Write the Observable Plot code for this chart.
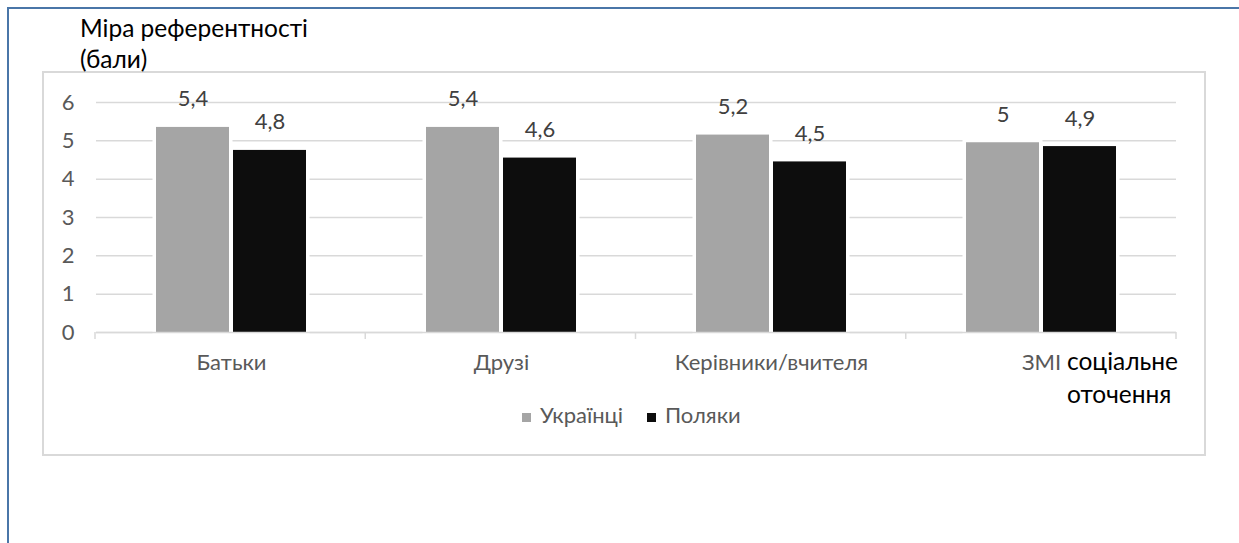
<!DOCTYPE html>
<html>
<head>
<meta charset="utf-8">
<script src="https://cdn.jsdelivr.net/npm/d3@7"></script>
<script src="https://cdn.jsdelivr.net/npm/@observablehq/plot@0.6"></script>
<style>
  html, body { margin: 0; padding: 0; background: #fff; }
  body { width: 1239px; height: 543px; overflow: hidden; position: relative; font-family: Lato, "Open Sans", sans-serif; }
  #frame { position: absolute; left: 7px; top: 7px; width: 1300px; height: 600px; border-top: 2px solid #4a76a8; border-left: 2px solid #4a76a8; }
  #box { position: absolute; box-sizing: border-box; left: 42px; top: 71px; width: 1164px; height: 385px; border: 2px solid #d9d9d9; }
  #chart { position: absolute; left: 0; top: 0; }
  #chart svg text { font-family: Lato, "Open Sans", sans-serif; font-size: 22px; }
  #ov { position: absolute; left: 0; top: 0; pointer-events: none; font-family: Lato, "Open Sans", sans-serif; }
</style>
</head>
<body>
<div id="frame"></div>
<div id="box"></div>
<div id="chart"></div>
<svg id="ov" width="1239" height="543">
  <text x="80" y="37" font-size="24.5" fill="#000">Міра референтності</text>
  <text x="80" y="68" font-size="24.5" fill="#000">(бали)</text>
  <text x="1067" y="370" font-size="24.5" fill="#000">соціальне</text>
  <text x="1067" y="403" font-size="24.5" fill="#000">оточення</text>
  <g id="legend"></g>
</svg>
<script>
// ---- data ----
const categories = ["Батьки", "Друзі", "Керівники/вчителя", "ЗМІ"];
const series = ["Українці", "Поляки"];
const ukrainians = [5.35, 5.35, 5.15, 4.95];
const poles = [4.75, 4.55, 4.45, 4.85];
const ukrainiansLabels = ["5,4", "5,4", "5,2", "5"];
const polesLabels = ["4,8", "4,6", "4,5", "4,9"];
const yTicks = [0, 1, 2, 3, 4, 5, 6];
const colors = ["#a5a5a5", "#0d0d0d"];

const data = categories.flatMap((c, i) => [
  {cat: c, ser: series[0], v: ukrainians[i], label: ukrainiansLabels[i]},
  {cat: c, ser: series[1], v: poles[i], label: polesLabels[i]}
]);

const chart = Plot.plot({
  width: 1239,
  height: 543,
  marginLeft: 95,
  marginRight: 63,
  marginTop: 102,
  marginBottom: 211,
  style: {background: "transparent", fontFamily: "Lato, 'Open Sans', sans-serif", fontSize: "22px", color: "#595959", overflow: "visible"},
  fx: {domain: categories, padding: 0, axis: "bottom", tickSize: 0, tickPadding: 22, label: null},
  x: {domain: series, axis: null, paddingInner: 0.052, paddingOuter: 0.779},
  y: {domain: [0, 6], ticks: 6, tickSize: 0, tickPadding: 22, label: null, tickFormat: d => String(d)},
  color: {domain: series, range: colors},
  marks: [
    Plot.ruleY(yTicks, {stroke: "#d9d9d9", strokeWidth: 1.5}),
    Plot.barY(data, {fx: "cat", x: "ser", y: "v", fill: "ser", stroke: "white", strokeWidth: 7, paintOrder: "stroke"}),
    Plot.ruleY([0], {stroke: "#d9d9d9", strokeWidth: 1.5}),
    Plot.text(data, {fx: "cat", x: "ser", y: "v", text: "label", lineAnchor: "bottom", dy: -21, fill: "#404040"})
  ]
});
document.getElementById("chart").appendChild(chart);

// category boundary tick marks, placed with the plot's own scales
const fxScale = chart.scale("fx");
const yScale = chart.scale("y");
const [r0, r1] = fxScale.range;
const y0 = yScale.apply(0);
const bounds = d3.range(categories.length + 1).map(i => r0 + i * (r1 - r0) / categories.length);
d3.select(chart).append("g")
  .selectAll("line").data(bounds).join("line")
  .attr("x1", d => d).attr("x2", d => d)
  .attr("y1", y0).attr("y2", y0 + 7)
  .attr("stroke", "#d9d9d9").attr("stroke-width", 1.5);

// legend
const lg = d3.select("#legend");
const legendX = [522, 647];
series.forEach((s, i) => {
  lg.append("rect").attr("x", legendX[i]).attr("y", 413).attr("width", 9).attr("height", 9).attr("fill", colors[i]);
  lg.append("text").attr("x", legendX[i] + 18).attr("y", 423).attr("font-size", 22).attr("fill", "#595959").text(s);
});
</script>
</body>
</html>
